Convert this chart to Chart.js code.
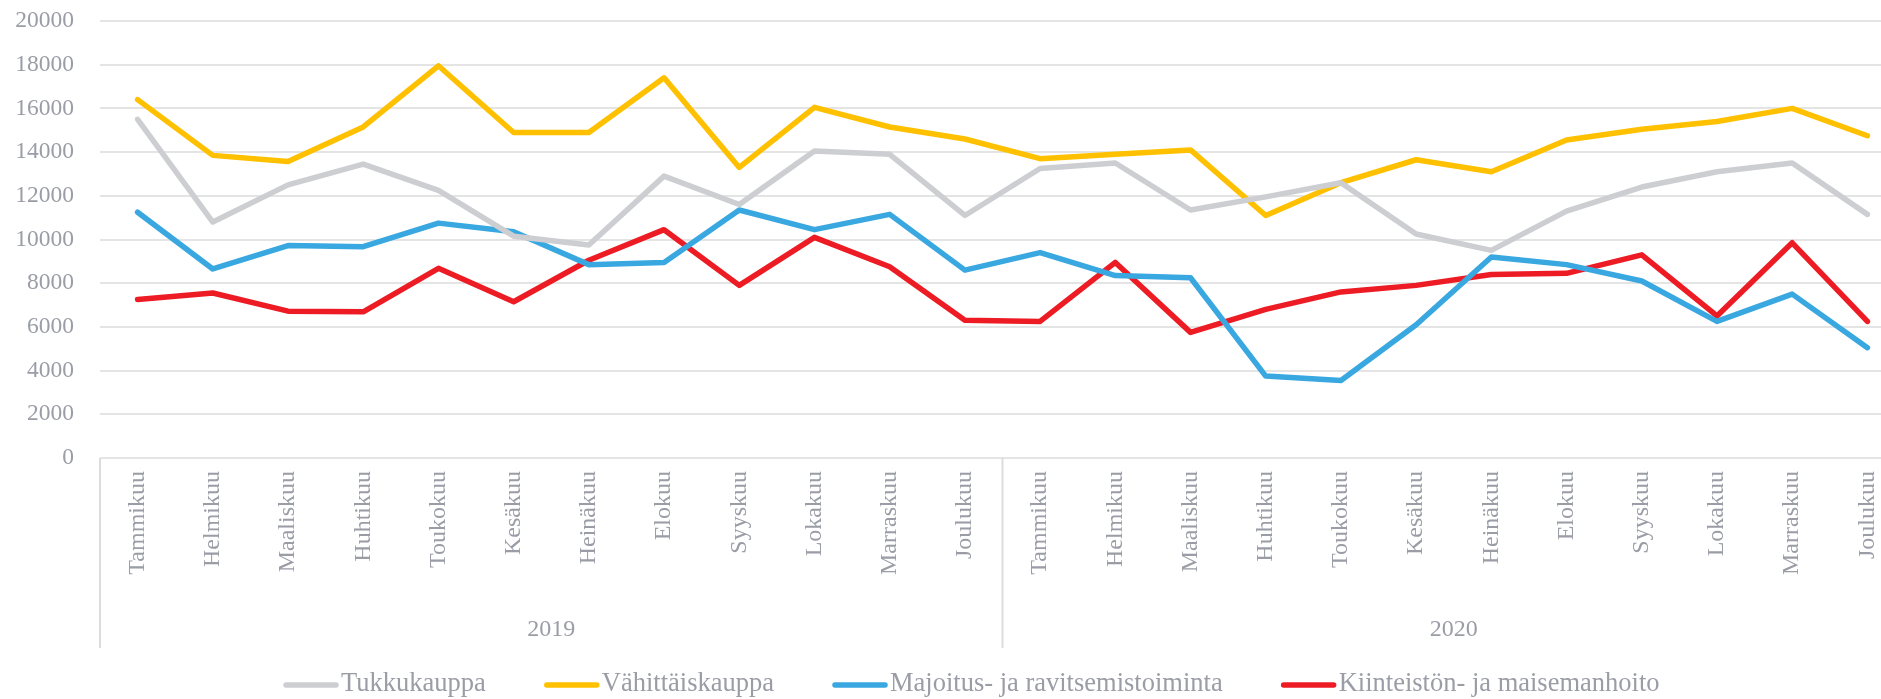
<!DOCTYPE html>
<html>
<head>
<meta charset="utf-8">
<script src="https://cdn.jsdelivr.net/npm/chart.js@4"></script>
<style>
html,body{margin:0;padding:0;background:#fff;overflow:hidden;width:1881px;height:699px}
canvas{display:block}
</style>
</head>
<body>
<canvas id="c" width="1905" height="699"></canvas>
<script>
const months = ['Tammikuu','Helmikuu','Maaliskuu','Huhtikuu','Toukokuu','Kesäkuu','Heinäkuu','Elokuu','Syyskuu','Lokakuu','Marraskuu','Joulukuu'];
const years = ['2019','2020'];
const seriesNames = ['Tukkukauppa','Vähittäiskauppa','Majoitus- ja ravitsemistoiminta','Kiinteistön- ja maisemanhoito'];

const tukkukauppa = [15500,10800,12500,13450,12250,10150,9750,12900,11600,14050,13900,11100,
                     13250,13500,11350,11950,12600,10250,9500,11300,12400,13100,13500,11150];
const vahittaiskauppa = [16400,13850,13570,15150,17950,14900,14900,17400,13300,16050,15150,14600,
                         13700,13900,14100,11100,12600,13650,13100,14550,15050,15400,16000,14750];
const majoitus = [11250,8650,9720,9670,10750,10350,8850,8950,11350,10450,11150,8600,
                  9400,8350,8250,3750,3550,6100,9200,8850,8100,6250,7500,5050];
const kiinteisto = [7250,7550,6720,6690,8680,7150,9050,10450,7900,10100,8750,6300,
                    6250,8950,5750,6800,7600,7900,8400,8450,9300,6500,9850,6250];

const yMin = 0, yMax = 20000, yStep = 2000;
const colors = ['#cdced2','#ffc000','#39a7e0','#ed1c24'];
const tickColor = '#9b9da6';
const serif = '"Liberation Serif", "DejaVu Serif", serif';

const labels = years.flatMap(() => months);

const groupPlugin = {
  id: 'groups',
  afterDraw(chart) {
    const xs = chart.scales.x, ctx = chart.ctx, ca = chart.chartArea;
    const n = months.length;
    const half = (xs.getPixelForValue(1) - xs.getPixelForValue(0)) / 2;
    ctx.save();
    ctx.strokeStyle = '#dcdcdc';
    ctx.lineWidth = 2;
    for (let g = 0; g <= years.length; g++) {
      const px = g < years.length ? xs.getPixelForValue(g * n) - half
                                  : xs.getPixelForValue(years.length * n - 1) + half;
      ctx.beginPath();
      ctx.moveTo(px, ca.bottom);
      ctx.lineTo(px, ca.bottom + 190);
      ctx.stroke();
    }
    ctx.fillStyle = tickColor;
    ctx.font = '24px ' + serif;
    ctx.textAlign = 'center';
    ctx.textBaseline = 'alphabetic';
    years.forEach((y, g) => {
      const a = xs.getPixelForValue(g * n) - half;
      const b = xs.getPixelForValue(g * n + n - 1) + half;
      ctx.fillText(y, (a + b) / 2, 636);
    });
    // legend
    let lx = 283;
    const ly = 685;
    ctx.font = '26.5px ' + serif;
    ctx.textAlign = 'left';
    chart.data.datasets.forEach(ds => {
      ctx.strokeStyle = ds.borderColor;
      ctx.lineWidth = 5.5;
      ctx.lineCap = 'round';
      ctx.beginPath();
      ctx.moveTo(lx + 3, ly);
      ctx.lineTo(lx + 53, ly);
      ctx.stroke();
      ctx.fillStyle = tickColor;
      ctx.fillText(ds.label, lx + 58, 691);
      lx += 58 + ctx.measureText(ds.label).width + 58;
    });
    ctx.restore();
  }
};

const dataSeries = [tukkukauppa, vahittaiskauppa, majoitus, kiinteisto];

new Chart(document.getElementById('c'), {
  type: 'line',
  data: {
    labels: labels,
    datasets: dataSeries.map((d, i) => ({
      label: seriesNames[i],
      data: d,
      borderColor: colors[i],
      backgroundColor: colors[i],
      borderWidth: 5.5,
      pointRadius: 0,
      tension: 0,
      borderCapStyle: 'round',
      borderJoinStyle: 'round',
      fill: false
    }))
  },
  options: {
    responsive: false,
    animation: false,
    layout: { padding: { top: 21, right: 0, bottom: 0, left: 0 } },
    plugins: { legend: { display: false }, tooltip: { enabled: false } },
    scales: {
      x: {
        offset: true,
        grid: { display: false },
        border: { display: false },
        ticks: {
          autoSkip: false, minRotation: 90, maxRotation: 90, padding: 5,
          color: tickColor, font: { family: serif, size: 24 }
        },
        afterFit(s) { s.height = 241; s.paddingLeft = 0; s.paddingRight = 0; }
      },
      y: {
        min: yMin, max: yMax,
        border: { display: false },
        grid: { color: '#e4e4e4', lineWidth: 2, drawTicks: false },
        ticks: {
          stepSize: yStep, padding: 26, color: tickColor,
          font: { family: serif, size: 23.5 },
          callback: v => String(v)
        },
        afterFit(s) { s.width = 100; s.paddingTop = 0; s.paddingBottom = 0; }
      }
    }
  },
  plugins: [groupPlugin]
});
</script>
</body>
</html>
